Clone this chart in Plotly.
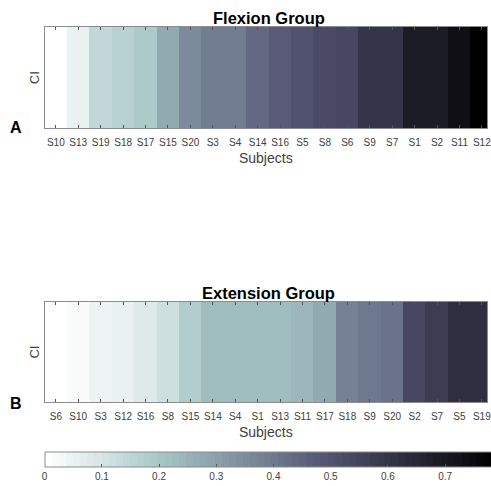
import plotly.graph_objects as go

flex_subjects = ["S10", "S13", "S19", "S18", "S17", "S15", "S20", "S3", "S4", "S14",
                 "S16", "S5", "S8", "S6", "S9", "S7", "S1", "S2", "S11", "S12"]
flex_ci = [0.0, 0.056, 0.14, 0.169, 0.196, 0.276, 0.347, 0.383, 0.383, 0.436,
           0.479, 0.50, 0.525, 0.542, 0.595, 0.595, 0.69, 0.69, 0.74, 0.79]

ext_subjects = ["S6", "S10", "S3", "S12", "S16", "S8", "S15", "S14", "S4", "S1",
                "S13", "S11", "S17", "S18", "S9", "S20", "S2", "S7", "S5", "S19"]
ext_ci = [0.0, 0.02, 0.045, 0.061, 0.083, 0.113, 0.174, 0.224, 0.224, 0.224,
          0.224, 0.241, 0.276, 0.372, 0.40, 0.418, 0.542, 0.57, 0.62, 0.62]

cbar_ticks = [0, 0.1, 0.2, 0.3, 0.4, 0.5, 0.6, 0.7]
cmin, cmax = 0.0, 0.79


# MATLAB "bone" colormap, reversed, 64 discrete levels
def bone(x):
    def clip(v):
        return max(0.0, min(1.0, v))
    hr = clip(x / 0.375)
    hg = clip((x - 0.375) / 0.375)
    hb = clip((x - 0.75) / 0.25)
    r = (7 * x + hb) / 8
    g = (7 * x + hg) / 8
    b = (7 * x + hr) / 8
    return "rgb(%d,%d,%d)" % (round(r * 255), round(g * 255), round(b * 255))


N = 64
colorscale = []
for k in range(N):
    c = bone(1 - k / (N - 1))
    colorscale.append([k / N, c])
    colorscale.append([(k + 1) / N, c])

W, H = 491, 486
FONT = "Liberation Sans, Arial, sans-serif"
AX_COL = "#8c8c8c"
TXT_COL = "#404040"

fig = go.Figure()
fig.add_trace(go.Heatmap(z=[flex_ci], x=list(range(len(flex_ci))), y=[0],
                         coloraxis="coloraxis", xaxis="x", yaxis="y", hoverinfo="skip"))
fig.add_trace(go.Heatmap(z=[ext_ci], x=list(range(len(ext_ci))), y=[0],
                         coloraxis="coloraxis", xaxis="x2", yaxis="y2", hoverinfo="skip"))

left = 45 / W
xr = [-0.5, 19.23]


def xax(labels, anchor):
    return dict(domain=[left, 1], range=xr, anchor=anchor,
                tickmode="array", tickvals=list(range(len(labels))), ticktext=labels,
                ticks="inside", ticklen=3, tickcolor="#555", showline=True,
                linecolor=AX_COL, linewidth=1, mirror="ticks",
                ticklabeloverflow="allow", ticklabelstandoff=5,
                tickfont=dict(size=10, color=TXT_COL, family=FONT),
                title=dict(text="Subjects", font=dict(size=14, color=TXT_COL, family=FONT),
                           standoff=5),
                showgrid=False, zeroline=False, fixedrange=True)


def yax(top_px, bot_px, anchor):
    return dict(domain=[1 - bot_px / H, 1 - top_px / H], range=[-0.5, 0.5], anchor=anchor,
                showticklabels=False, ticks="", showline=True, linecolor=AX_COL,
                linewidth=1, mirror=True, showgrid=False, zeroline=False,
                title=dict(text="CI", font=dict(size=13, color=TXT_COL, family=FONT),
                           standoff=1))


fig.update_layout(
    width=W, height=H,
    margin=dict(l=0, r=0, t=0, b=0),
    paper_bgcolor="white", plot_bgcolor="white",
    font=dict(family=FONT),
    showlegend=False,
    xaxis=xax(flex_subjects, "y"),
    yaxis=yax(27, 129, "x"),
    xaxis2=xax(ext_subjects, "y2"),
    yaxis2=yax(303, 404, "x2"),
    coloraxis=dict(
        colorscale=colorscale, cmin=cmin, cmax=cmax,
        colorbar=dict(orientation="h", x=left, xanchor="left",
                      y=1 - 454 / H, yanchor="top",
                      thickness=15, thicknessmode="pixels",
                      len=452, lenmode="pixels",
                      ticks="inside", ticklen=3, tickcolor="#555",
                      tickmode="array", tickvals=cbar_ticks,
                      ticktext=[("%g" % t) for t in cbar_ticks],
                      tickfont=dict(size=10, color=TXT_COL, family=FONT),
                      outlinecolor=AX_COL, outlinewidth=1, xpad=0, ypad=0),
    ),
    annotations=[
        dict(text="<b>Flexion Group</b>", x=(45 + 497) / 2 / W, y=1 - 18 / H,
             xref="paper", yref="paper", showarrow=False, yanchor="middle",
             font=dict(size=16.5, color="black", family=FONT)),
        dict(text="<b>Extension Group</b>", x=(45 + 497) / 2 / W, y=1 - 294 / H,
             xref="paper", yref="paper", showarrow=False, yanchor="middle",
             font=dict(size=16.5, color="black", family=FONT)),
        dict(text="<b>A</b>", x=16 / W, y=1 - 128 / H, xref="paper", yref="paper",
             showarrow=False, yanchor="middle", xanchor="center",
             font=dict(size=16, color="black", family=FONT)),
        dict(text="<b>B</b>", x=16 / W, y=1 - 405 / H, xref="paper", yref="paper",
             showarrow=False, yanchor="middle", xanchor="center",
             font=dict(size=16, color="black", family=FONT)),
    ],
)

fig.write_html("out.html")
